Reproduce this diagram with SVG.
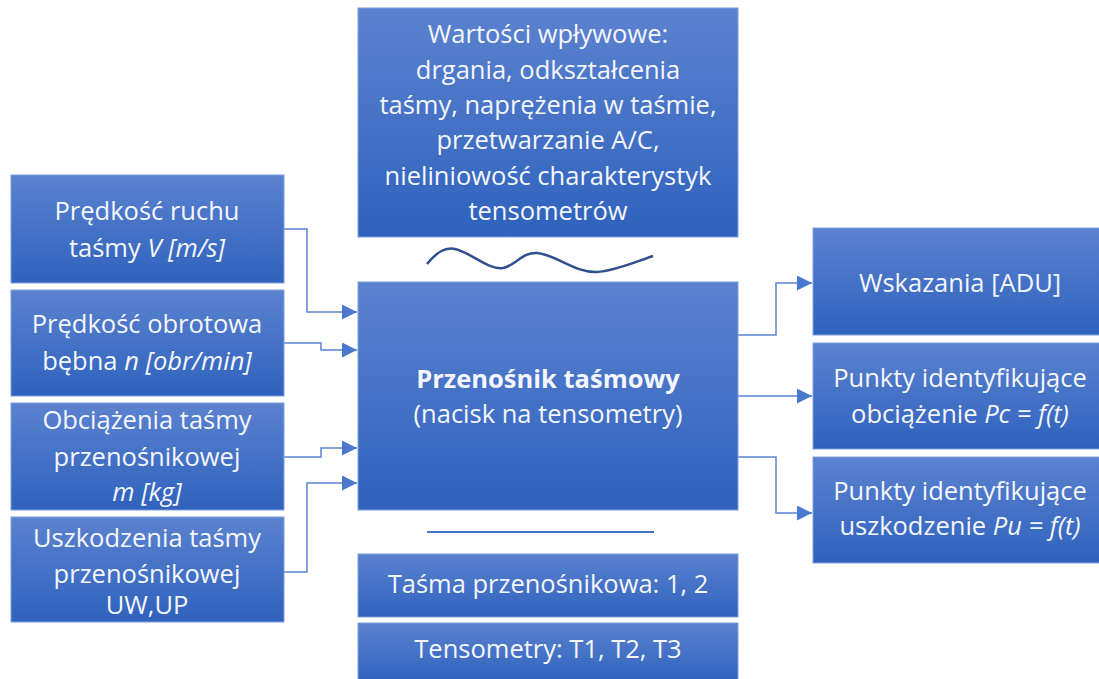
<svg xmlns="http://www.w3.org/2000/svg" width="1099" height="679" viewBox="0 0 1099 679">
  <defs>
    <linearGradient id="boxFill" x1="0" y1="0" x2="0" y2="1">
      <stop offset="0" stop-color="#5b82cf"/>
      <stop offset="1" stop-color="#2f62bd"/>
    </linearGradient>
    <marker id="arrow" viewBox="0 0 10 10" refX="10" refY="5" markerWidth="15" markerHeight="15" markerUnits="userSpaceOnUse" orient="auto">
      <path d="M0,0 L10,5 L0,10 z" fill="#4a78cc"/>
    </marker>
  </defs>
  <style>
    .box { fill: url(#boxFill); stroke: #7f9fde; stroke-width: 1; }
    .t { font-family: "Open Sans", "Liberation Sans", sans-serif; font-size: 25.5px; fill: #f4f6fb; text-anchor: middle; }
    .b { font-weight: bold; }
    .i { font-style: italic; }
    .conn { fill: none; stroke: #5a84d2; stroke-width: 1.5; marker-end: url(#arrow); }
  </style>
  <rect width="1099" height="679" fill="#ffffff"/>

  <g id="connectors">
    <path class="conn" d="M284,229 H307 V312 H357"/>
    <path class="conn" d="M284,343 H321 V350 H357"/>
    <path class="conn" d="M284,457 H321 V448 H357"/>
    <path class="conn" d="M284,572 H307 V483 H357"/>
    <path class="conn" d="M738,335 H776 V283 H812"/>
    <path class="conn" d="M738,396 H812"/>
    <path class="conn" d="M738,457 H776 V513 H812"/>
  </g>

  <g id="in-speed">
    <rect class="box" x="11" y="175" width="273" height="108"/>
    <text class="t" x="147" y="220">Prędkość ruchu</text>
    <text class="t" x="147" y="257">taśmy <tspan class="i">V [m/s]</tspan></text>
  </g>
  <g id="in-rotation">
    <rect class="box" x="11" y="290" width="273" height="106"/>
    <text class="t" x="147" y="333">Prędkość obrotowa</text>
    <text class="t" x="147" y="370">bębna <tspan class="i">n [obr/min]</tspan></text>
  </g>
  <g id="in-load">
    <rect class="box" x="11" y="403" width="273" height="107"/>
    <text class="t" x="147" y="429">Obciążenia taśmy</text>
    <text class="t" x="147" y="466">przenośnikowej</text>
    <text class="t i" x="147" y="501">m [kg]</text>
  </g>
  <g id="in-damage">
    <rect class="box" x="11" y="517" width="273" height="105"/>
    <text class="t" x="147" y="547">Uszkodzenia taśmy</text>
    <text class="t" x="147" y="583">przenośnikowej</text>
    <text class="t" x="147" y="614">UW,UP</text>
  </g>

  <g id="disturbances">
    <rect class="box" x="358" y="8" width="380" height="229"/>
    <text class="t" x="548" y="43">Wartości wpływowe:</text>
    <text class="t" x="548" y="79">drgania, odkształcenia</text>
    <text class="t" x="548" y="114">taśmy, naprężenia w taśmie,</text>
    <text class="t" x="548" y="149">przetwarzanie A/C,</text>
    <text class="t" x="548" y="185">nieliniowość charakterystyk</text>
    <text class="t" x="548" y="220">tensometrów</text>
  </g>
  <path id="disturbance-wave" d="M427,264 C437,252 445,247 455,249 C470,252 488,270 503,268 C515,266 522,252 537,253 C555,254 575,273 597,272 C615,271 635,262 653,256" fill="none" stroke="#2f4f8f" stroke-width="2.5"/>

  <g id="conveyor">
    <rect class="box" x="358" y="282" width="380" height="228"/>
    <text class="t b" x="548" y="388">Przenośnik taśmowy</text>
    <text class="t" x="548" y="423">(nacisk na tensometry)</text>
  </g>
  <line id="separator" x1="427" y1="532" x2="654" y2="532" stroke="#4472c4" stroke-width="2"/>

  <g id="belts">
    <rect class="box" x="358" y="554" width="380" height="63"/>
    <text class="t" x="548" y="593">Taśma przenośnikowa: 1, 2</text>
  </g>
  <g id="sensors">
    <rect class="box" x="358" y="623" width="380" height="60"/>
    <text class="t" x="548" y="658">Tensometry: T1, T2, T3</text>
  </g>

  <g id="out-readings">
    <rect class="box" x="813" y="228" width="292" height="107"/>
    <text class="t" x="960" y="292">Wskazania [ADU]</text>
  </g>
  <g id="out-load-points">
    <rect class="box" x="813" y="343" width="292" height="106"/>
    <text class="t" x="960" y="387">Punkty identyfikujące</text>
    <text class="t" x="960" y="423">obciążenie <tspan class="i">Pc = f(t)</tspan></text>
  </g>
  <g id="out-damage-points">
    <rect class="box" x="813" y="457" width="292" height="106"/>
    <text class="t" x="960" y="500">Punkty identyfikujące</text>
    <text class="t" x="960" y="535">uszkodzenie <tspan class="i">Pu = f(t)</tspan></text>
  </g>
</svg>
